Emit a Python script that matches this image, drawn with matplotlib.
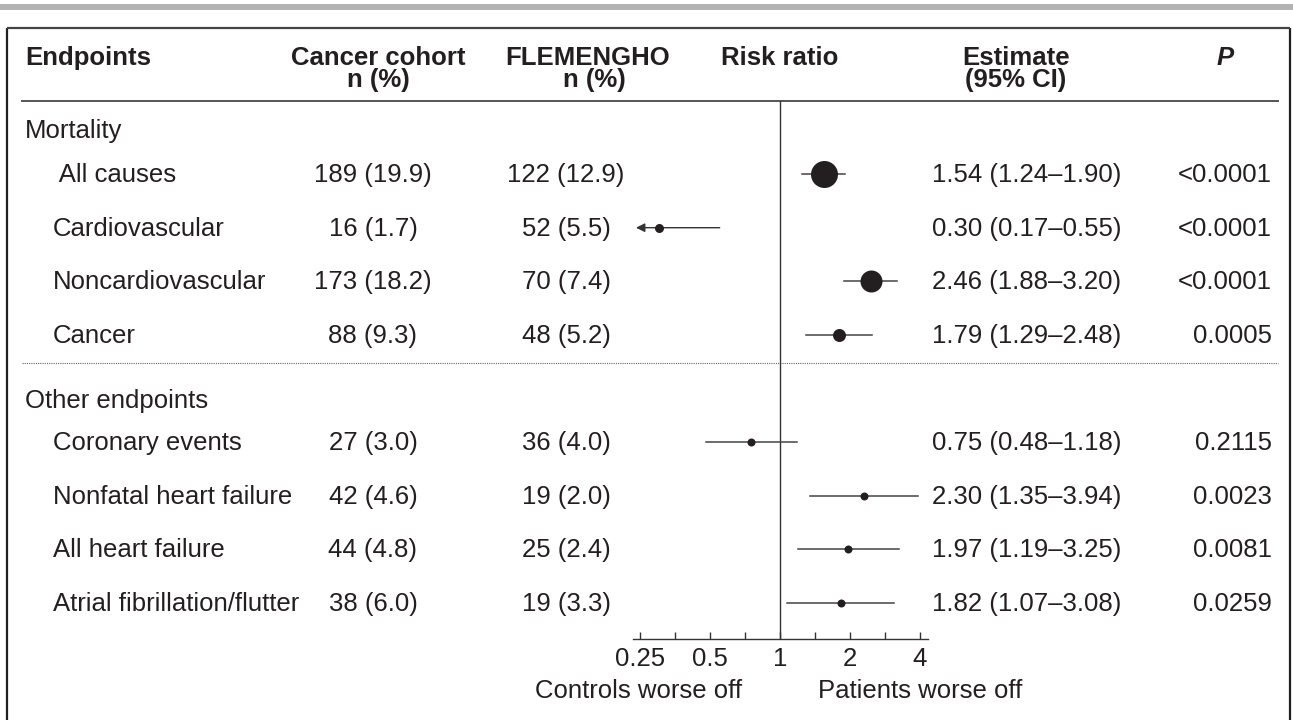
import numpy as np
import matplotlib
matplotlib.use("Agg")
import matplotlib.pyplot as plt

plt.rcParams['font.family'] = ['Liberation Sans', 'DejaVu Sans']

# ---------------- data ----------------
groups = ["Mortality", "Other endpoints"]
endpoints_mortality = [" All causes", "Cardiovascular", "Noncardiovascular", "Cancer"]
endpoints_other = ["Coronary events", "Nonfatal heart failure", "All heart failure",
                   "Atrial fibrillation/flutter"]
cancer_n = ["189 (19.9)", "16 (1.7)", "173 (18.2)", "88 (9.3)",
            "27 (3.0)", "42 (4.6)", "44 (4.8)", "38 (6.0)"]
flemengho_n = ["122 (12.9)", "52 (5.5)", "70 (7.4)", "48 (5.2)",
               "36 (4.0)", "19 (2.0)", "25 (2.4)", "19 (3.3)"]
risk_ratio = [1.54, 0.30, 2.46, 1.79, 0.75, 2.30, 1.97, 1.82]
ci_low = [1.24, 0.17, 1.88, 1.29, 0.48, 1.35, 1.19, 1.07]
ci_high = [1.90, 0.55, 3.20, 2.48, 1.18, 3.94, 3.25, 3.08]
p_values = ["<0.0001", "<0.0001", "<0.0001", "0.0005",
            "0.2115", "0.0023", "0.0081", "0.0259"]
tick_values = [0.25, 0.5, 1, 2, 4]
tick_labels = ["0.25", "0.5", "1", "2", "4"]
headers = ["Endpoints", "Cancer cohort", "FLEMENGHO", "Risk ratio", "Estimate", "P"]

# ---------------- style ----------------
marker_px = [27, 9, 22, 13, 8, 8, 8, 8]   # marker diameters (weights)
TXT = '#231f20'
FS = 18.5
HFS = 18.5

W, H = 1293, 720
fig = plt.figure(figsize=(W / 100, H / 100), dpi=100)
bg = fig.add_axes([0, 0, 1, 1])
bg.set_xlim(0, W)
bg.set_ylim(H, 0)
bg.axis('off')

# row positions (pixel layout)
step = 53.7
group_y = [131, 401]
row_y = [174 + step * i for i in range(4)] + [442 + step * i for i in range(4)]
TOFF = 1.0  # text baseline nudge

# decorations
bg.fill_between([0, W], 4, 9.5, color='#b3b3b3', lw=0)
bg.plot([7, 7], [28, H + 5], color=TXT, lw=1.6, solid_capstyle='butt')
bg.plot([1290, 1290], [28, H + 5], color=TXT, lw=1.6, solid_capstyle='butt')
bg.plot([7, 1290], [28, 28], color='#444444', lw=1.6, solid_capstyle='butt')
bg.plot([22, 1278], [101, 101], color='#555555', lw=1.4)
bg.plot([22, 1278], [363, 363], color='#666666', lw=0.8, ls=(0, (1, 1)))

# header
hy1, hy2 = 58, 80
bold = dict(va='center', fontsize=HFS, fontweight='bold', color=TXT)
bg.text(25, hy1, headers[0], ha='left', **bold)
bg.text(378, hy1, headers[1], ha='center', **bold)
bg.text(378, hy2, "n (%)", ha='center', **bold)
bg.text(588, hy1, headers[2], ha='center', **bold)
bg.text(594, hy2, "n (%)", ha='center', **bold)
bg.text(780, hy1, headers[3], ha='center', **bold)
bg.text(1016, hy1, headers[4], ha='center', **bold)
bg.text(1016, hy2, "(95% CI)", ha='center', **bold)
bg.text(1225, hy1, headers[5], ha='center', fontstyle='italic', **bold)

# group labels
for g, gy in zip(groups, group_y):
    bg.text(25, gy, g, ha='left', va='center', fontsize=FS, color=TXT)

endpoints = endpoints_mortality + endpoints_other
for i, y in enumerate(row_y):
    ty = y + TOFF
    bg.text(53, ty, endpoints[i], ha='left', va='center', fontsize=FS, color=TXT)
    bg.text(373, ty, cancer_n[i], ha='center', va='center', fontsize=FS, color=TXT)
    bg.text(566, ty, flemengho_n[i], ha='center', va='center', fontsize=FS, color=TXT)
    est = f"{risk_ratio[i]:.2f} ({ci_low[i]:.2f}\u2013{ci_high[i]:.2f})"
    bg.text(932, ty, est, ha='left', va='center', fontsize=FS, color=TXT)
    bg.text(1272, ty, p_values[i], ha='right', va='center', fontsize=FS, color=TXT)

# ---------------- forest axes ----------------
x0, x1, ytop, ybot = 633, 928, 101, 639
ax = fig.add_axes([x0 / W, (H - ybot) / H, (x1 - x0) / W, (ybot - ytop) / H])
ax.patch.set_alpha(0)
ax.set_xscale('log', base=2)
xmin, xmax = 0.233, 4.33
ax.set_xlim(xmin, xmax)
ax.set_ylim(ybot, ytop)
for s in ['top', 'left', 'right']:
    ax.spines[s].set_visible(False)
ax.spines['bottom'].set_color('#333333')
ax.spines['bottom'].set_linewidth(1.0)
ax.set_yticks([])
ax.set_xticks(tick_values)
ax.set_xticklabels(tick_labels)
ax.set_xticks([v * np.sqrt(2) for v in tick_values[:-1]], minor=True)
ax.xaxis.set_minor_formatter(matplotlib.ticker.NullFormatter())
ax.tick_params(axis='x', which='both', direction='in', length=5, width=1.0,
               color='#333333', labelsize=FS, labelcolor=TXT, pad=6)
ax.axvline(1, color='#333333', lw=1.0)

for i, y in enumerate(row_y):
    lo, hi = ci_low[i], ci_high[i]
    if lo < xmin:
        tip = xmin * 1.03
        ax.annotate('', xy=(tip, y), xytext=(hi, y),
                    arrowprops=dict(arrowstyle='-|>', color='#333333', lw=1.0,
                                    mutation_scale=13, shrinkA=0, shrinkB=0))
    else:
        ax.plot([lo, hi], [y, y], color='#444444', lw=1.1)
    ax.plot(risk_ratio[i], y, 'o', color=TXT, ms=marker_px[i] * 0.72, mew=0, zorder=3)

bg.text(742, 691, "Controls worse off", ha='right', va='center', fontsize=FS, color=TXT)
bg.text(818, 691, "Patients worse off", ha='left', va='center', fontsize=FS, color=TXT)

fig.savefig("out.png", dpi=100)
